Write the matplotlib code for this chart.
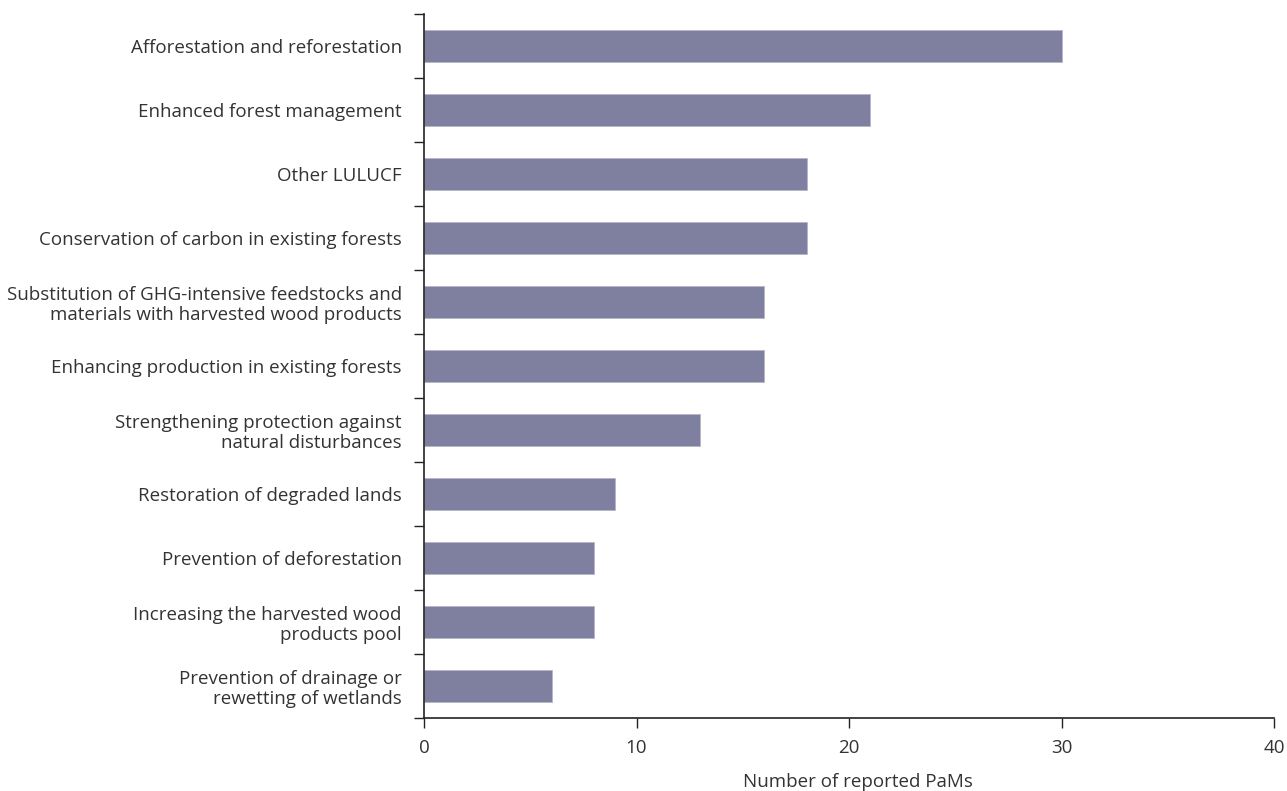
import matplotlib
matplotlib.use("Agg")
import matplotlib.pyplot as plt
import numpy as np

categories = [
    "Afforestation and reforestation",
    "Enhanced forest management",
    "Other LULUCF",
    "Conservation of carbon in existing forests",
    "Substitution of GHG-intensive feedstocks and\nmaterials with harvested wood products",
    "Enhancing production in existing forests",
    "Strengthening protection against\nnatural disturbances",
    "Restoration of degraded lands",
    "Prevention of deforestation",
    "Increasing the harvested wood\nproducts pool",
    "Prevention of drainage or\nrewetting of wetlands",
]
values = [30, 21, 18, 18, 16, 16, 13, 9, 8, 8, 6]
xticks = [0, 10, 20, 30, 40]

plt.rcParams['font.family'] = ['Open Sans', 'DejaVu Sans']
text_color = '#333333'
fs = 13.5

fig = plt.figure(figsize=(12.87, 7.91), dpi=100)
ax = fig.add_axes([424/1287, 1-718/791, (1274-424)/1287, (718-14)/791])

y = np.arange(len(categories))
ax.barh(y, values, height=0.5, color='#7f7f9f', edgecolor='#b5b5c8', linewidth=0.6)
ax.set_ylim(len(categories)-0.5, -0.5)
ax.set_xlim(0, 40)
ax.set_xticks(xticks)
ax.set_xticklabels([str(t) for t in xticks], fontsize=fs, color=text_color)
ax.set_yticks(y)
ax.set_yticklabels(categories, fontsize=fs, color=text_color, linespacing=1.15)
ax.tick_params(axis='y', which='major', length=0, pad=16)
ax.set_yticks(np.arange(-0.5, len(categories), 1.0), minor=True)
ax.tick_params(axis='y', which='minor', length=7, width=1, color='#222222')
ax.tick_params(axis='x', length=7, width=1, color='#222222', pad=8)
for s in ['top', 'right']:
    ax.spines[s].set_visible(False)
for s in ['left', 'bottom']:
    ax.spines[s].set_color('#222222')
    ax.spines[s].set_linewidth(1.2)
ax.set_xlabel("Number of reported PaMs", fontsize=fs, color=text_color, labelpad=11)
ax.xaxis.set_label_coords(0.511, -0.078, transform=ax.transAxes)

fig.savefig("out.png", dpi=100)
